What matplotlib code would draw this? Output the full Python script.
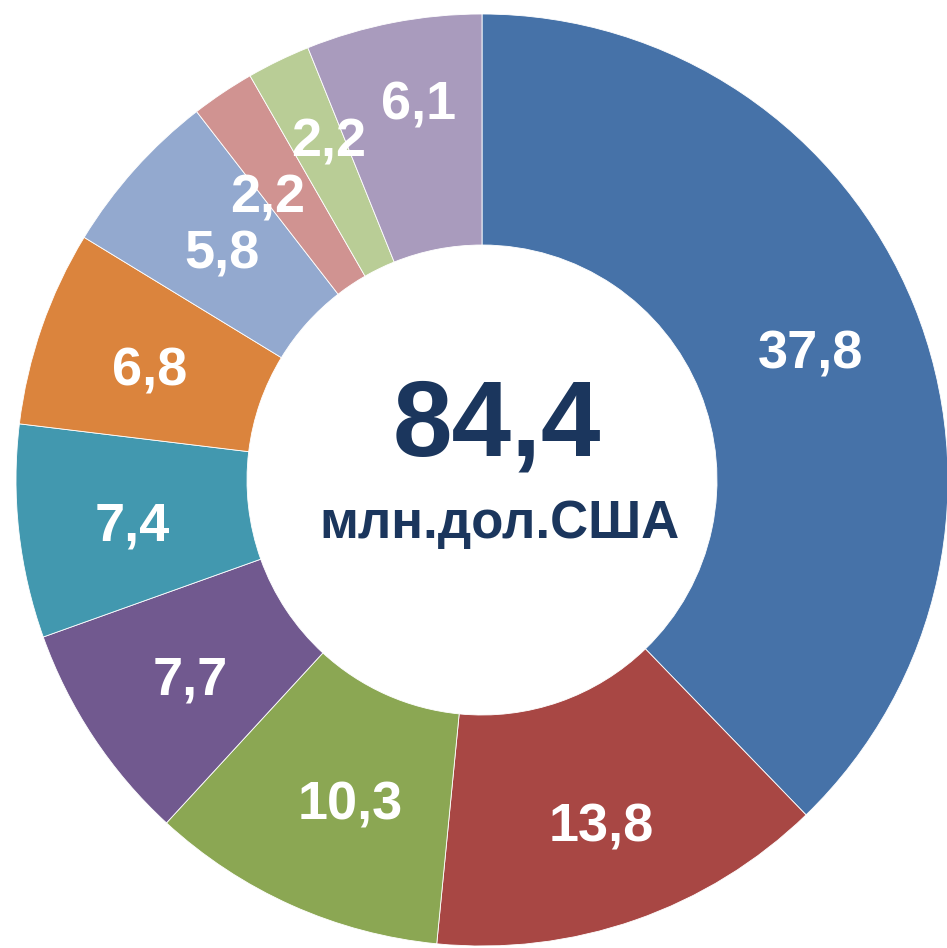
import numpy as np
import matplotlib.pyplot as plt

# shares, clockwise from 12 o'clock
values = [37.8, 13.8, 10.3, 7.7, 7.4, 6.8, 5.8, 2.2, 2.2, 6.1]
labels = ['37,8', '13,8', '10,3', '7,7', '7,4', '6,8', '5,8', '2,2', '2,2', '6,1']
colors = ['#4672A8', '#A84744', '#8BA753', '#71598F', '#4298AF',
          '#DB843D', '#93A9CF', '#D09391', '#B9CD96', '#A99BBD']
total_text = '84,4'
unit_text = 'млн.дол.США'

plt.rcParams['font.family'] = ['Liberation Sans', 'DejaVu Sans']

fig = plt.figure(figsize=(9.47, 9.48), dpi=100)
ax = fig.add_axes([0, 0, 1, 1])

px = 1 / 466  # one pixel in data units
outer = 1.0
inner = 235 * px
wedges, _ = ax.pie(values, colors=colors, startangle=90, counterclock=False,
                   radius=outer, wedgeprops=dict(width=outer - inner,
                                                 edgecolor='white', linewidth=0.6))

# label radius (fraction of outer radius) and small angular nudges (deg)
label_r = [0.76, 0.775, 0.74, 0.75, 0.755, 0.755, 0.75, 0.77, 0.81, 0.83]
label_da = [0, 0, 1.7, 0, 0, 0, 0, 2.8, -1.9, -1.5]
for w, lab, r, da in zip(wedges, labels, label_r, label_da):
    ang = np.deg2rad((w.theta1 + w.theta2) / 2 + da)
    ax.text(r * np.cos(ang), r * np.sin(ang) - 7 * px, lab, ha='center',
            va='center', color='white', fontsize=39, fontweight='bold')

navy = '#1B365D'
ax.text(15 * px, 0.112, total_text, ha='center', va='center', color=navy,
        fontsize=77, fontweight='bold')
ax.text(17 * px, -0.095, unit_text, ha='center', va='center', color=navy,
        fontsize=38, fontweight='bold')

ax.set_xlim(-482 * px, 465 * px)
ax.set_ylim(-468 * px, 480 * px)
ax.set_aspect('equal')
ax.axis('off')

fig.savefig('out.png', dpi=100)
